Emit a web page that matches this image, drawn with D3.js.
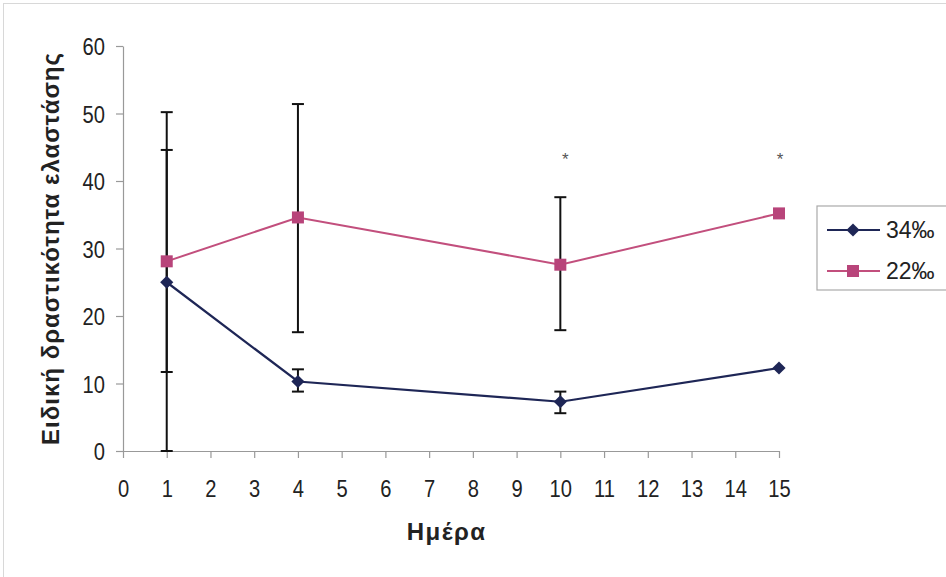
<!DOCTYPE html>
<html>
<head>
<meta charset="utf-8">
<script src="https://cdn.jsdelivr.net/npm/d3@7"></script>
<style>
  body { margin: 0; background: #fff; }
  text { font-family: "Liberation Sans", Arial, sans-serif; }
</style>
</head>
<body>
<svg id="chart" width="946" height="577"></svg>
<script>
// data
const days = [1, 4, 10, 15];
const s34 = [25, 10.3, 7.3, 12.3];
const s22 = [28.1, 34.6, 27.6, 35.2];
// error bar ends (low / high), null = no bar
const s34Low = [11.7, 8.8, 5.6, null];
const s34High = [44.6, 12.1, 8.8, null];
const s22Low = [0, 17.6, 17.9, null];
const s22High = [50.2, 51.4, 37.6, null];
const starDays = [10, 15];
const starValue = 43.6;
const xTicks = [0, 1, 2, 3, 4, 5, 6, 7, 8, 9, 10, 11, 12, 13, 14, 15];
const yTicks = [0, 10, 20, 30, 40, 50, 60];
const seriesNames = ["34‰", "22‰"];

let svg = d3.select("svg#chart"),
  margin = { top: 46, right: 167, bottom: 126, left: 123 },
  width = +svg.attr("width") - margin.left - margin.right,
  height = +svg.attr("height") - margin.top - margin.bottom;

svg.append("rect")
  .attr("x", 3.5).attr("y", 3.5)
  .attr("width", 950).attr("height", 580)
  .attr("fill", "#fff")
  .attr("stroke", "#d8d8d8");

let xScale = d3.scaleLinear().domain([0, 15]).range([0, width]),
  yScale = d3.scaleLinear().domain([0, 60]).range([height, 0]);

let g = svg.append("g")
  .attr("transform", "translate(" + margin.left + "," + margin.top + ")");

// axes
let xAxis = g.append("g")
  .attr("transform", "translate(0," + height + ")")
  .call(d3.axisBottom(xScale).tickValues(xTicks).tickSize(7).tickPadding(22).tickSizeOuter(0));
let yAxis = g.append("g")
  .call(d3.axisLeft(yScale).tickValues(yTicks).tickSize(7).tickPadding(11).tickSizeOuter(0));

[xAxis, yAxis].forEach(function (a) {
  a.select(".domain").attr("stroke", "#999").attr("stroke-width", 1.2);
  a.selectAll(".tick line").attr("stroke", "#999").attr("stroke-width", 1.2);
  a.selectAll(".tick text")
    .attr("fill", "#222")
    .style("font-size", "24px")
    .style("font-family", "'Liberation Sans', Arial, sans-serif");
});
// labels in the picture are tall and narrow
xAxis.selectAll(".tick text").attr("transform", "scale(0.84,1)");
yAxis.selectAll(".tick text")
  .attr("x", 0).attr("dy", "0.36em")
  .attr("transform", "translate(-18,0) scale(0.84,1)");

// axis titles
svg.append("text")
  .attr("x", margin.left + xScale(7.4))
  .attr("y", 540)
  .attr("text-anchor", "middle")
  .style("font-size", "24px")
  .style("font-weight", "bold")
  .style("letter-spacing", "1.5px")
  .attr("fill", "#222")
  .text("Ημέρα");

svg.append("text")
  .attr("transform", "translate(59," + (margin.top + yScale(30)) + ") rotate(-90)")
  .attr("text-anchor", "middle")
  .style("font-size", "24px")
  .style("font-weight", "bold")
  .style("letter-spacing", "1px")
  .attr("fill", "#222")
  .text("Ειδική δραστικότητα ελαστάσης");

// error bars
function errorBars(low, high) {
  let rows = days.map((d, i) => ({ day: d, lo: low[i], hi: high[i] }))
    .filter((r) => r.lo !== null);
  let eb = g.append("g").attr("stroke", "#111").attr("stroke-width", 2);
  eb.selectAll("line.v").data(rows).enter().append("line")
    .attr("x1", (r) => xScale(r.day)).attr("x2", (r) => xScale(r.day))
    .attr("y1", (r) => yScale(r.lo)).attr("y2", (r) => yScale(r.hi));
  ["lo", "hi"].forEach(function (k) {
    eb.selectAll("line.c" + k).data(rows).enter().append("line")
      .attr("x1", (r) => xScale(r.day) - 6).attr("x2", (r) => xScale(r.day) + 6)
      .attr("y1", (r) => yScale(r[k])).attr("y2", (r) => yScale(r[k]));
  });
}
errorBars(s22Low, s22High);
errorBars(s34Low, s34High);

let line = d3.line()
  .x((d) => xScale(d[0]))
  .y((d) => yScale(d[1]));

const navy = "#1e2656", pink = "#c24f7d", pinkMark = "#b8447a";

// 22 series
g.append("path")
  .datum(days.map((d, i) => [d, s22[i]]))
  .attr("fill", "none").attr("stroke", pink).attr("stroke-width", 2)
  .attr("d", line);
g.selectAll(".sq").data(days.map((d, i) => [d, s22[i]])).enter().append("rect")
  .attr("x", (d) => xScale(d[0]) - 6).attr("y", (d) => yScale(d[1]) - 6)
  .attr("width", 12).attr("height", 12)
  .attr("fill", pinkMark);

// 34 series
g.append("path")
  .datum(days.map((d, i) => [d, s34[i]]))
  .attr("fill", "none").attr("stroke", navy).attr("stroke-width", 2.2)
  .attr("d", line);
g.selectAll(".dm").data(days.map((d, i) => [d, s34[i]])).enter().append("path")
  .attr("d", d3.symbol(d3.symbolDiamond2, 110))
  .attr("transform", (d) => "translate(" + xScale(d[0]) + "," + yScale(d[1]) + ")")
  .attr("fill", navy);

// significance stars
g.selectAll(".star").data(starDays).enter().append("text")
  .attr("x", (d) => xScale(d) + (d === 10 ? 5 : 1))
  .attr("y", yScale(starValue) + 8)
  .attr("text-anchor", "middle")
  .style("font-size", "17px")
  .attr("fill", "#555")
  .text("*");

// legend
let lg = svg.append("g").attr("transform", "translate(817,206)");
lg.append("rect").attr("width", 140).attr("height", 84)
  .attr("fill", "#fff").attr("stroke", "#aaa").attr("stroke-width", 1.2);
seriesNames.forEach(function (name, i) {
  let yy = 24 + i * 41;
  let col = i === 0 ? navy : pink;
  lg.append("line").attr("x1", 10).attr("x2", 63).attr("y1", yy).attr("y2", yy)
    .attr("stroke", col).attr("stroke-width", 2);
  if (i === 0) {
    lg.append("path").attr("d", d3.symbol(d3.symbolDiamond2, 110))
      .attr("transform", "translate(36," + yy + ")").attr("fill", navy);
  } else {
    lg.append("rect").attr("x", 30).attr("y", yy - 6).attr("width", 12).attr("height", 12)
      .attr("fill", pinkMark);
  }
  lg.append("text").attr("x", 69).attr("y", yy + 8)
    .style("font-size", "23px").attr("fill", "#222").text(name);
});
</script>
</body>
</html>
